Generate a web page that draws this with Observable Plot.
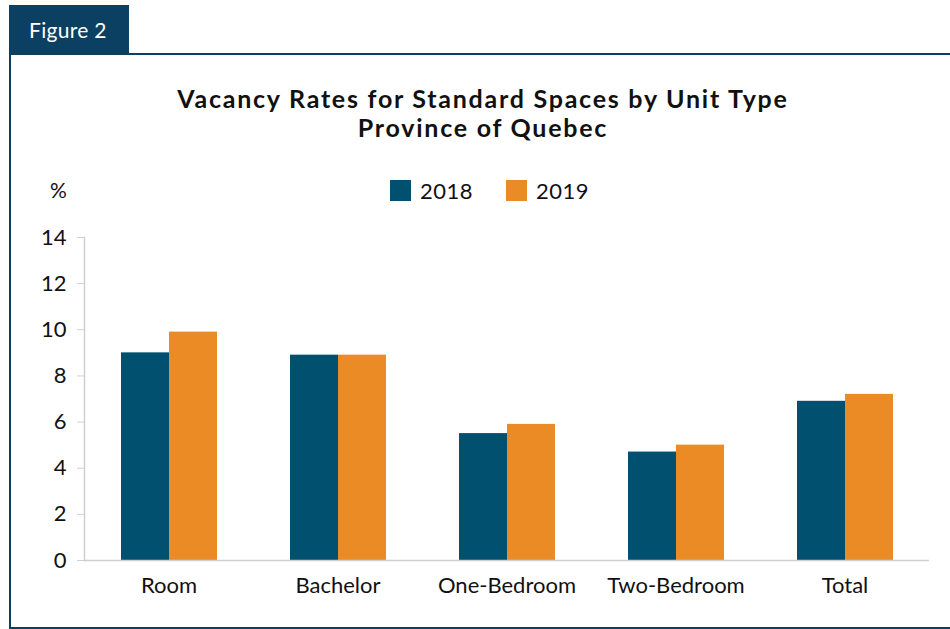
<!DOCTYPE html>
<html><head><meta charset="utf-8">
<script src="https://cdn.jsdelivr.net/npm/d3@7"></script>
<script src="https://cdn.jsdelivr.net/npm/@observablehq/plot@0.6"></script>
<style>
body{margin:0;background:#fff;font-family:Lato,"Open Sans",sans-serif;color:#111;}
#page{position:relative;width:950px;height:629px;overflow:hidden;background:#fff;}
#tab{position:absolute;left:9px;top:5px;width:120px;height:50px;background:#0b4062;color:#fff;font-size:21px;line-height:50px;padding-left:20px;box-sizing:border-box;letter-spacing:0.3px;}
#box{position:absolute;left:9px;top:53px;width:1000px;height:576px;border-left:2px solid #0b4062;border-top:2px solid #0b4062;border-bottom:2px solid #0b4062;box-sizing:border-box;}
#title{position:absolute;left:0;top:84px;width:966px;text-align:center;font-weight:700;font-size:25px;line-height:29px;letter-spacing:1.75px;}
#unit{position:absolute;left:50px;top:177px;font-size:21px;}
#legend{position:absolute;left:390px;top:177px;font-size:22px;display:flex;align-items:center;letter-spacing:0.5px;}
#legend .item{display:flex;align-items:center;margin-right:33px;}
#legend .sw{width:21px;height:21px;margin-right:9px;}
#chart{position:absolute;left:0;top:210px;}
</style></head>
<body><div id="page">
<div id="box"></div>
<div id="tab">Figure 2</div>
<div id="title">Vacancy Rates for Standard Spaces by Unit Type<br>Province of Quebec</div>
<div id="unit">%</div>
<div id="legend"></div>
<div id="chart"></div>
</div>
<script>
const categories = ["Room", "Bachelor", "One-Bedroom", "Two-Bedroom", "Total"];
const years = ["2018", "2019"];
const rates2018 = [9.0, 8.9, 5.5, 4.7, 6.9];
const rates2019 = [9.9, 8.9, 5.9, 5.0, 7.2];
const yTicks = [0, 2, 4, 6, 8, 10, 12, 14];
const colors = ["#02506f", "#eb8b26"];

const data = [];
categories.forEach((c, i) => {
  data.push({cat: c, year: years[0], value: rates2018[i]});
  data.push({cat: c, year: years[1], value: rates2019[i]});
});

const legend = document.getElementById("legend");
years.forEach((y, i) => {
  const it = document.createElement("div");
  it.className = "item";
  it.innerHTML = `<span class="sw" style="background:${colors[i]}"></span><span>${y}</span>`;
  legend.appendChild(it);
});

const chart = Plot.plot({
  width: 950, height: 400,
  marginLeft: 83, marginRight: 20, marginTop: 27, marginBottom: 50,
  style: {fontFamily: "Lato, 'Open Sans', sans-serif", fontSize: "22px", color: "#111", background: "transparent", overflow: "visible"},
  fx: {domain: categories, padding: 0, label: null},
  x: {domain: years, paddingInner: 0, paddingOuter: 0.76, axis: null},
  y: {domain: [0, 14], label: null},
  color: {domain: years, range: colors},
  marks: [
    Plot.barY(data, {fx: "cat", x: "year", y: "value", fill: "year"}),
    Plot.ruleY([0], {stroke: "#d0d0d0", strokeWidth: 1.5}),
    Plot.frame({anchor: "left", stroke: "#d0d0d0", strokeWidth: 1.5, facet: "super"}),
    Plot.axisY({ticks: yTicks, tickSize: 7, tickPadding: 11, stroke: "#d0d0d0", fill: "#111", fontSize: 22, label: null}),
    Plot.axisFx({anchor: "bottom", tickSize: 0, tickPadding: 17, fontSize: 22, fill: "#111", label: null, style: {letterSpacing: "0.6px"}})
  ]
});
document.getElementById("chart").appendChild(chart);
</script>
</body></html>
